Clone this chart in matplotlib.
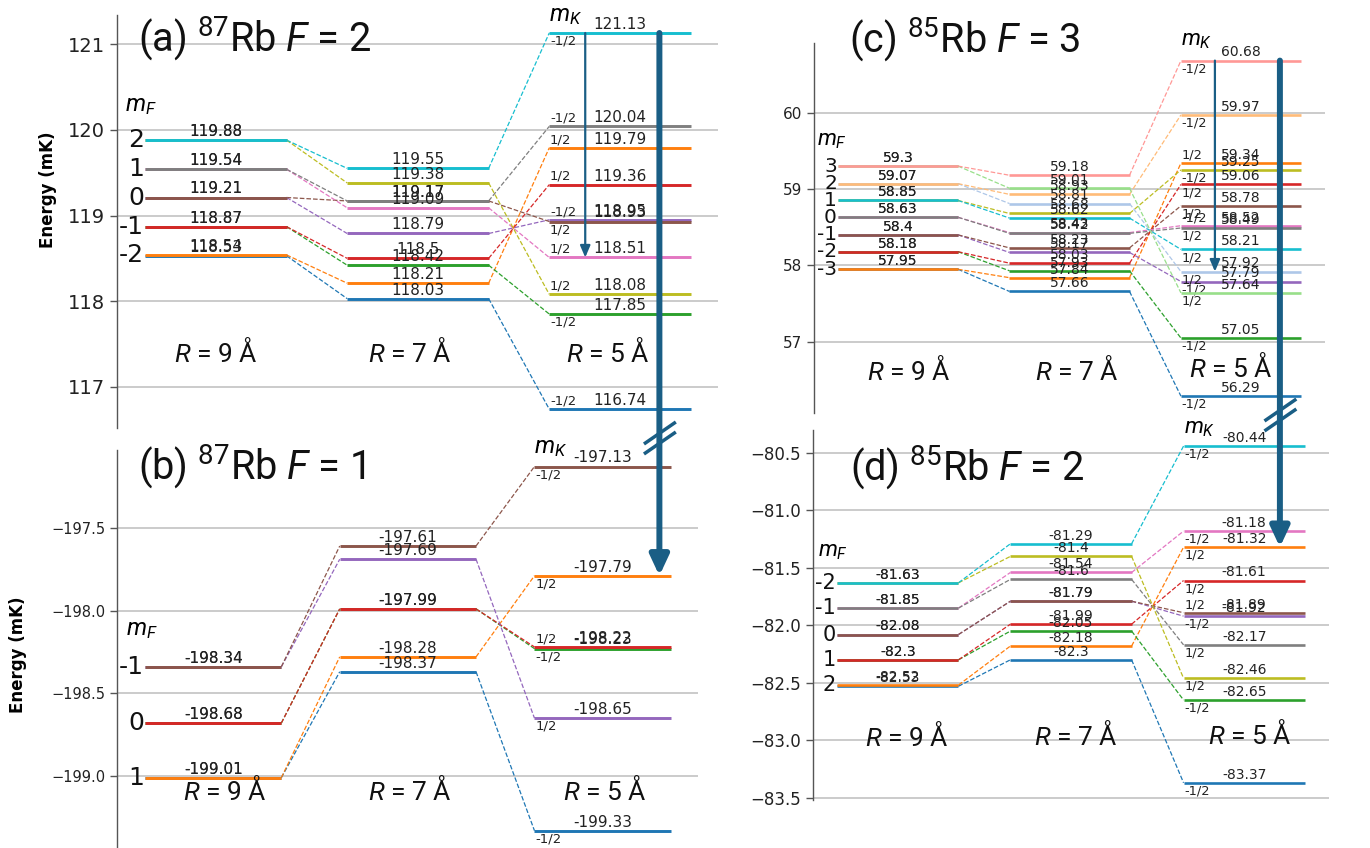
import numpy as np
import matplotlib
matplotlib.use('Agg')
import matplotlib.pyplot as plt
from matplotlib.patches import ConnectionPatch
from matplotlib.lines import Line2D
from matplotlib.ticker import FuncFormatter, MultipleLocator
from matplotlib.transforms import blended_transform_factory

plt.rcParams['mathtext.fontset'] = 'custom'
plt.rcParams['mathtext.rm'] = 'Roboto'
plt.rcParams['mathtext.it'] = 'Roboto:italic'

TAB = ['#1f77b4', '#ff7f0e', '#2ca02c', '#d62728', '#9467bd',
       '#8c564b', '#e377c2', '#7f7f7f', '#bcbd22', '#17becf']
LIGHT = ['#aec7e8', '#ffbb78', '#98df8a', '#ff9896']
ARROW = '#1a5e85'

# ---- data: energies (mK) at R = 9, 7, 5 A, one entry per state (colour order) ----
a_E9 = [118.53, 118.54, 118.87, 118.87, 119.21, 119.21, 119.54, 119.54, 119.88, 119.88]
a_E7 = [118.03, 118.21, 118.42, 118.5, 118.79, 119.17, 119.09, 119.17, 119.38, 119.55]
a_E5 = [116.74, 119.79, 117.85, 119.36, 118.95, 118.93, 118.51, 120.04, 118.08, 121.13]
a_mK = ['-1/2', '1/2', '-1/2', '1/2', '-1/2', '1/2', '1/2', '-1/2', '1/2', '-1/2']
a_mF = ['-2', '-1', '0', '1', '2']

b_E9 = [-199.01, -199.01, -198.68, -198.68, -198.34, -198.34]
b_E7 = [-198.37, -198.28, -197.99, -197.99, -197.69, -197.61]
b_E5 = [-199.33, -197.79, -198.23, -198.22, -198.65, -197.13]
b_mK = ['-1/2', '1/2', '-1/2', '1/2', '1/2', '-1/2']
b_mF = ['1', '0', '-1']

c_E9 = [57.95, 57.95, 58.18, 58.18, 58.4, 58.4, 58.63, 58.63, 58.85, 58.85, 59.07, 59.07, 59.3, 59.3]
c_E7 = [57.66, 57.84, 57.93, 58.03, 58.17, 58.23, 58.43, 58.42, 58.68, 58.62, 58.81, 58.93, 59.01, 59.18]
c_E5 = [56.29, 59.34, 57.05, 59.06, 57.79, 58.78, 58.52, 58.49, 59.25, 58.21, 57.92, 59.97, 57.64, 60.68]
c_mK = ['-1/2', '1/2', '-1/2', '1/2', '-1/2', '1/2', '-1/2', '1/2', '-1/2', '1/2', '1/2', '-1/2', '1/2', '-1/2']
c_mF = ['-3', '-2', '-1', '0', '1', '2', '3']

d_E9 = [-82.53, -82.52, -82.3, -82.3, -82.08, -82.08, -81.85, -81.85, -81.63, -81.63]
d_E7 = [-82.3, -82.18, -82.05, -81.99, -81.79, -81.79, -81.54, -81.6, -81.4, -81.29]
d_E5 = [-83.37, -81.32, -82.65, -81.61, -81.92, -81.89, -81.18, -82.17, -82.46, -80.44]
d_mK = ['-1/2', '1/2', '-1/2', '1/2', '-1/2', '1/2', '-1/2', '1/2', '1/2', '-1/2']
d_mF = ['2', '1', '0', '-1', '-2']

R_labels = ['9', '7', '5']

# ---- layout / style ----
W, H = 1370, 848
X0 = [0.0, 1.0, 2.0]
SEG = 0.7

fig = plt.figure(figsize=(W / 100, H / 100), dpi=100)
fig.patch.set_facecolor('white')


def add_ax(left, top, right, bottom):
    ax = fig.add_axes([left / W, 1 - bottom / H, (right - left) / W, (bottom - top) / H])
    ax.patch.set_alpha(0)
    return ax


def fmt_int(v, pos):
    return f'{v:.0f}'.replace('-', '\u2212')


def fmt_half(v, pos):
    return f'{v:.1f}'.replace('-', '\u2212')


def draw_panel(ax, E9, E7, E5, mK, up, mF, colors, st):
    ax.set_xlim(*st['xlim']); ax.set_ylim(*st['ylim'])
    for s in ['top', 'right', 'bottom']:
        ax.spines[s].set_visible(False)
    ax.spines['left'].set_color('#555555'); ax.spines['left'].set_linewidth(1.0)
    ax.set_xticks([])
    ax.yaxis.set_major_locator(MultipleLocator(st['step']))
    ax.yaxis.set_major_formatter(FuncFormatter(st['fmt']))
    ax.tick_params(axis='y', direction='out', length=5, width=1, color='#555555',
                   labelsize=st['tick_fs'], labelcolor='#222222')
    ax.grid(axis='y', color='#bdbdbd', lw=1.1)
    ax.set_axisbelow(True)
    for i in range(len(E9)):
        c = colors[i]
        Es = [E9[i], E7[i], E5[i]]
        for x0, e in zip(X0, Es):
            ax.plot([x0, x0 + SEG], [e, e], color=c, lw=st['lw'], solid_capstyle='butt', zorder=3)
            ax.annotate(f'{e:g}', (x0 + SEG / 2, e), xytext=(0, 0.8), textcoords='offset points',
                        ha='center', va='bottom', fontsize=st['val_fs'], color='#222222', zorder=4)
        for k in range(2):
            ax.plot([X0[k] + SEG, X0[k + 1]], [Es[k], Es[k + 1]], ls='--', lw=0.9, color=c, zorder=2)
        dy = 1.2 if up[i] else -1.2
        ax.annotate(mK[i], (X0[2], E5[i]), xytext=(0.5, dy), textcoords='offset points',
                    ha='left', va='bottom' if up[i] else 'top', fontsize=st['mk_fs'], color='#222222')
    # m_F labels on the R = 9 A levels
    for k, lab in enumerate(mF):
        e = max(E9[2 * k], E9[2 * k + 1])
        ax.text(-0.006, e, lab, ha='right', va='center', fontsize=st['mf_fs'], color='#111111')
    ax.annotate(r'$m_F$', (st['mF_x'], max(E9)), xytext=(0, st['mF_dy']), textcoords='offset points',
                ha='left', va='center', fontsize=st['sym_fs'])
    ax.annotate(r'$m_K$', (X0[2], max(E5)), xytext=(0, st['mK_dy']), textcoords='offset points',
                ha='left', va='center', fontsize=st['sym_fs'])
    for xr, yr, r in zip(st['R_x'], st['R_y'], R_labels):
        ax.text(xr, yr, r'$R$ = ' + r + ' \u00c5', ha='center', va='center',
                fontsize=19, family='Roboto', color='#111111')
    ax.text(st['title_xy'][0], st['title_xy'][1], st['title'], ha='left', va='baseline',
            fontsize=28.5, family='Roboto', color='#111111', clip_on=False)


ax_a = add_ax(117, 15, 718, 428)
ax_b = add_ax(117, 450, 698, 848)
ax_c = add_ax(814, 43, 1325, 413)
ax_d = add_ax(813, 430, 1329, 800)

up_a = [1, 1, 0, 1, 1, 0, 1, 1, 1, 0]
up_b = [0, 0, 0, 1, 0, 0]
up_c = [0, 1, 0, 0, 0, 0, 1, 0, 0, 0, 0, 0, 0, 0]
up_d = [0, 0, 0, 0, 0, 1, 0, 0, 0, 0]

st_a = dict(xlim=(-0.139, 2.835), ylim=(116.52, 121.34), step=1, fmt=fmt_int, tick_fs=14,
            lw=2.1, val_fs=11, mk_fs=9.5, mf_fs=18, sym_fs=17, mF_x=-0.1, mF_dy=25, mK_dy=13,
            R_x=[0.35, 1.31, 2.29], R_y=[117.4, 117.4, 117.4],
            title=r'(a) $^{87}$Rb $F$ = 2', title_xy=(-0.035, 120.91))
st_b = dict(xlim=(-0.144, 2.84), ylim=(-199.435, -197.03), step=0.5, fmt=fmt_half, tick_fs=10.5,
            lw=2.1, val_fs=11, mk_fs=9.5, mf_fs=18, sym_fs=17, mF_x=-0.1, mF_dy=27, mK_dy=14,
            R_x=[0.41, 1.36, 2.36], R_y=[-199.085, -199.085, -199.085],
            title=r'(b) $^{87}$Rb $F$ = 1', title_xy=(-0.036, -197.21))
st_c = dict(xlim=(-0.14, 2.84), ylim=(56.07, 60.91), step=1, fmt=fmt_int, tick_fs=11,
            lw=1.9, val_fs=10, mk_fs=9.3, mf_fs=14.5, sym_fs=16, mF_x=-0.12, mF_dy=18, mK_dy=14,
            R_x=[0.41, 1.39, 2.29], R_y=[56.63, 56.63, 56.67],
            title=r'(c) $^{85}$Rb $F$ = 3', title_xy=(0.064, 60.78))
st_d = dict(xlim=(-0.14, 2.84), ylim=(-83.52, -80.30), step=0.5, fmt=fmt_half, tick_fs=12,
            lw=1.9, val_fs=10, mk_fs=9.3, mf_fs=15, sym_fs=16, mF_x=-0.11, mF_dy=22, mK_dy=12,
            R_x=[0.40, 1.38, 2.38], R_y=[-82.97, -82.96, -82.95],
            title=r'(d) $^{85}$Rb $F$ = 2', title_xy=(0.075, -80.74))

draw_panel(ax_a, a_E9, a_E7, a_E5, a_mK, up_a, a_mF, TAB, st_a)
draw_panel(ax_b, b_E9, b_E7, b_E5, b_mK, up_b, b_mF, TAB, st_b)
draw_panel(ax_c, c_E9, c_E7, c_E5, c_mK, up_c, c_mF, TAB + LIGHT, st_c)
draw_panel(ax_d, d_E9, d_E7, d_E5, d_mK, up_d, d_mF, TAB, st_d)

ax_a.text(-0.115, 0.576, 'Energy (mK)', transform=ax_a.transAxes, rotation=90, ha='center',
          va='center', fontsize=12, fontweight='bold')
ax_b.text(-0.170, 0.485, 'Energy (mK)', transform=ax_b.transAxes, rotation=90, ha='center',
          va='center', fontsize=12, fontweight='bold')

# thin arrows inside the upper panels
for ax, xa, e0, e1 in [(ax_a, 2.178, a_E5[9], a_E5[6]), (ax_c, 2.198, c_E5[13], c_E5[10])]:
    ax.annotate('', xy=(xa, e1), xytext=(xa, e0), zorder=6,
                arrowprops=dict(arrowstyle='-|>,head_length=0.7,head_width=0.3', mutation_scale=10,
                                lw=1.6, color=ARROW, shrinkA=0, shrinkB=0))

# thick arrows across the broken axis
for top, bot, xa, e0, e1, ymid in [(ax_a, ax_b, 2.545, a_E5[9], b_E5[1], 438),
                                   (ax_c, ax_d, 2.577, c_E5[13], d_E5[1], 415)]:
    cp = ConnectionPatch(xyA=(xa, e0), coordsA=top.transData,
                         xyB=(xa, e1), coordsB=blended_transform_factory(top.transData, bot.transData),
                         arrowstyle='-|>,head_length=0.6,head_width=0.28', mutation_scale=20,
                         lw=4.3, color=ARROW, shrinkA=0, shrinkB=0, zorder=8)
    fig.add_artist(cp)
    xp = top.transData.transform((xa, e0))[0]
    for dy in (-5, 5):
        yc = ymid + dy
        fig.add_artist(Line2D([(xp - 14) / W, (xp + 15) / W], [1 - (yc + 10) / H, 1 - (yc - 10) / H],
                              transform=fig.transFigure, color=ARROW, lw=2.5, zorder=9))

fig.savefig('out.png', dpi=100)
